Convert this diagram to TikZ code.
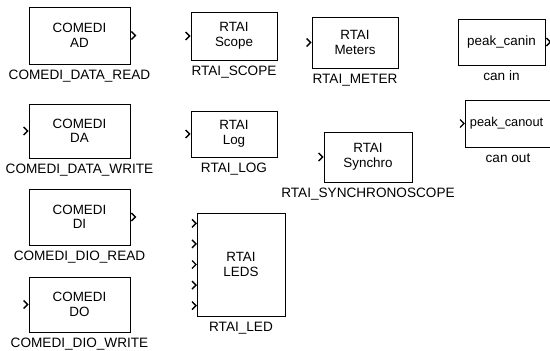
\documentclass[tikz,border=0pt]{standalone}
\usepackage{fontspec}
\setmainfont{Liberation Sans}
\usetikzlibrary{positioning}

\tikzset{
  blk/.style={draw, line width=0.8pt, inner sep=0pt, align=center, font=\fontsize{13.4}{14.5}\selectfont},
  blklbl/.style={anchor=base, inner sep=0pt, font=\fontsize{13.6}{15}\selectfont},
  port/.style={line width=1.4pt, line join=miter}
}
\newcommand{\inport}[1]{\draw[port] ([shift={(-5,-4)}]#1) -- ([shift={(-1,0)}]#1) -- ([shift={(-5,4)}]#1);}
\newcommand{\outport}[1]{\draw[port] ([shift={(1,-4)}]#1) -- ([shift={(5,0)}]#1) -- ([shift={(1,4)}]#1);}

\begin{document}
\begin{tikzpicture}[x=1pt, y=-1pt]
        \useasboundingbox (0,0) rectangle (550,351);
        % comedi blocks
        \node[blk, minimum width=101pt, minimum height=57pt] (ad) at (79.5,35.5) {COMEDI\\AD};
        \node[blklbl] (adlbl) at ([yshift=-15.5pt]ad.south) {COMEDI\_DATA\_READ};
        \outport{ad.east}
        \node[blk, minimum width=101pt, minimum height=54pt] (da) at (79.5,131) {COMEDI\\DA};
        \node[blklbl] (dalbl) at ([yshift=-15.5pt]da.south) {COMEDI\_DATA\_WRITE};
        \inport{da.west}
        \node[blk, minimum width=101pt, minimum height=56pt] (di) at (79.5,217) {COMEDI\\DI};
        \node[blklbl] (dilbl) at ([yshift=-15.5pt]di.south) {COMEDI\_DIO\_READ};
        \outport{di.east}
        \node[blk, minimum width=101pt, minimum height=55pt] (do) at (79.5,304.5) {COMEDI\\DO};
        \node[blklbl] (dolbl) at ([yshift=-15.5pt]do.south) {COMEDI\_DIO\_WRITE};
        \inport{do.west}
        % rtai blocks
        \node[blk, minimum width=86pt, minimum height=48pt] (scope) at (234,36) {RTAI\\Scope};
        \node[blklbl] (scopelbl) at ([yshift=-15.5pt]scope.south) {RTAI\_SCOPE};
        \inport{scope.west}
        \node[blk, minimum width=86pt, minimum height=51pt] (meters) at (355,42.5) {RTAI\\Meters};
        \node[blklbl] (meterslbl) at ([yshift=-15.5pt]meters.south) {RTAI\_METER};
        \inport{meters.west}
        \node[blk, minimum width=86pt, minimum height=46pt] (log) at (234,134) {RTAI\\Log};
        \node[blklbl] (loglbl) at ([yshift=-15.5pt]log.south) {RTAI\_LOG};
        \inport{log.west}
        \node[blk, minimum width=88pt, minimum height=50pt] (synchro) at (368,157) {RTAI\\Synchro};
        \node[blklbl] (synchrolbl) at ([yshift=-15.5pt]synchro.south) {RTAI\_SYNCHRONOSCOPE};
        \inport{synchro.west}
        \node[blk, minimum width=88pt, minimum height=103pt] (leds) at (241,264.5) {RTAI\\LEDS};
        \node[blklbl] (ledslbl) at ([yshift=-15.5pt]leds.south) {RTAI\_LED};
        \foreach \i in {1,...,5} {
          \coordinate (ledp\i) at (197,{213+(\i-0.5)*20.6});
          \inport{ledp\i}
        }
        % can blocks
        \node[blk, minimum width=87pt, minimum height=46pt] (canin) at (501.5,42) {peak\_canin};
        \node[blklbl] (caninlbl) at ([yshift=-15.5pt]canin.south) {can in};
        \outport{canin.east}
        \node[blk, anchor=west, minimum height=47pt, inner xsep=4.5pt, text width=92pt, align=left, font=\fontsize{12.8}{14.5}\selectfont] (canout) at (465,123.5) {peak\_canout};
        \node[blklbl] (canoutlbl) at ([yshift=-15.5pt]canout.south -| 508,0) {can out};
        \inport{canout.west}
      \end{tikzpicture}
\end{document}
